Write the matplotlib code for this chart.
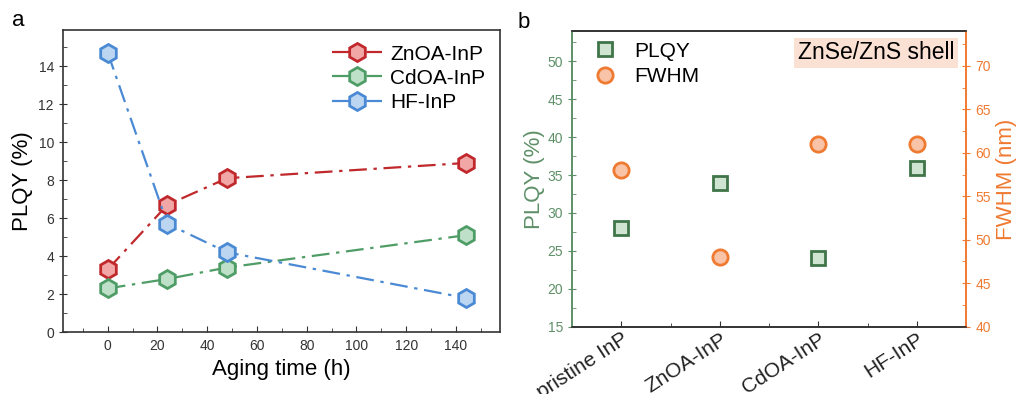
import matplotlib
matplotlib.use("Agg")
import matplotlib.pyplot as plt
import matplotlib.transforms as mtransforms
from matplotlib.ticker import MultipleLocator

plt.rcParams['font.family'] = ['Liberation Sans', 'DejaVu Sans']

# panel a: PLQY vs aging time
aging_h = [0, 24, 48, 144]
plqy_znoa = [3.3, 6.7, 8.1, 8.9]
plqy_cdoa = [2.3, 2.8, 3.4, 5.1]
plqy_hf = [14.7, 5.7, 4.2, 1.8]
series_a = ["ZnOA-InP", "CdOA-InP", "HF-InP"]

# panel b: shelled samples
samples = ["pristine InP", "ZnOA-InP", "CdOA-InP", "HF-InP"]
plqy_shell = [28, 34, 24, 36]
fwhm_shell = [58, 48, 61, 61]

RED_E, RED_F = "#c0282c", "#f2a7a7"
GRN_E, GRN_F = "#4f9d66", "#bfe0c8"
BLU_E, BLU_F = "#4a8ad4", "#bcd6f2"
DGRN_E, DGRN_F = "#3f7548", "#cfe5d2"
ORG_E, ORG_F = "#ef7a32", "#f8c3a6"
LGRN = "#5e9068"
DARK = "#333333"


def style_y(a, color):
    a.tick_params(axis="y", which="major", direction="inout", length=6,
                  colors=color, labelsize=10)
    a.tick_params(axis="y", which="minor", direction="in", length=3,
                  colors=color)


fig = plt.figure(figsize=(10.16, 3.94), dpi=100)

# ---------------- panel a ----------------
ax = fig.add_axes([0.062, 0.157, 0.430, 0.767])
for y, lab, ec, fc in zip([plqy_znoa, plqy_cdoa, plqy_hf], series_a,
                          [RED_E, GRN_E, BLU_E], [RED_F, GRN_F, BLU_F]):
    ax.plot(aging_h, y, linestyle=(0, (8, 3, 1.5, 3)), color=ec, lw=1.6,
            marker="h", ms=13, mfc=fc, mec=ec, mew=2, label=lab)
ax.set_xlim(-18, 157.7)
ax.set_ylim(0, 15.9)
ax.xaxis.set_major_locator(MultipleLocator(20))
ax.xaxis.set_minor_locator(MultipleLocator(10))
ax.yaxis.set_major_locator(MultipleLocator(2))
ax.yaxis.set_minor_locator(MultipleLocator(1))
style_y(ax, DARK)
ax.tick_params(axis="x", which="major", direction="in", length=4,
               colors=DARK, labelsize=10, pad=5)
ax.tick_params(axis="x", which="minor", direction="in", length=3, colors=DARK)
for s in ax.spines.values():
    s.set_color(DARK)
    s.set_linewidth(1.2)
ax.set_xlabel("Aging time (h)", fontsize=16)
ax.set_ylabel("PLQY (%)", fontsize=16)
ax.legend(loc="upper right", frameon=False, fontsize=15, handlelength=2.4,
          handletextpad=0.4, labelspacing=0.25, borderaxespad=0.3)
fig.text(0.012, 0.935, "a", fontsize=16)

# ---------------- panel b ----------------
bx = fig.add_axes([0.563, 0.171, 0.388, 0.750])
xs = list(range(len(samples)))
bx.plot(xs, plqy_shell, linestyle="none", marker="s", ms=10, mfc=DGRN_F,
        mec=DGRN_E, mew=2, label="PLQY")
bx.set_xlim(-0.5, 3.5)
bx.set_ylim(15, 54)
bx.set_xticks(xs)
bx.set_xticklabels(samples, rotation=33, ha="right", va="top",
                   rotation_mode="anchor", fontsize=15)
shift = mtransforms.ScaledTranslation(0.31, -0.01, fig.dpi_scale_trans)
for lbl in bx.get_xticklabels():
    lbl.set_transform(lbl.get_transform() + shift)
bx.set_xticks([0.5, 1.5, 2.5], minor=True)
bx.yaxis.set_major_locator(MultipleLocator(5))
bx.yaxis.set_minor_locator(MultipleLocator(2.5))
style_y(bx, LGRN)
bx.tick_params(axis="x", which="major", direction="in", length=4,
               color=DARK, labelcolor="#222222", pad=2)
bx.tick_params(axis="x", which="minor", direction="in", length=3, color=DARK)
bx.set_ylabel("PLQY (%)", fontsize=16, color=LGRN, labelpad=2)

cx = bx.twinx()
cx.plot(xs, fwhm_shell, linestyle="none", marker="o", ms=11, mfc=ORG_F,
        mec=ORG_E, mew=2, label="FWHM")
cx.set_ylim(40, 74)
cx.yaxis.set_major_locator(MultipleLocator(5))
cx.yaxis.set_minor_locator(MultipleLocator(2.5))
style_y(cx, ORG_E)
cx.set_ylabel("FWHM (nm)", fontsize=16, color=ORG_E)

for a_ in (bx, cx):
    for s in a_.spines.values():
        s.set_linewidth(1.2)
    a_.spines["top"].set_color(DARK)
    a_.spines["bottom"].set_color(DARK)
    a_.spines["left"].set_color(LGRN)
    a_.spines["right"].set_color(ORG_E)

h1, l1 = bx.get_legend_handles_labels()
h2, l2 = cx.get_legend_handles_labels()
bx.legend(h1 + h2, l1 + l2, loc="upper left", bbox_to_anchor=(0.03, 1.0),
          frameon=False, fontsize=15, handlelength=1.0, handletextpad=0.9,
          labelspacing=0.3, borderaxespad=0.2, borderpad=0.3)
cx.text(0.97, 0.965, "ZnSe/ZnS shell", transform=cx.transAxes, fontsize=16.5,
        ha="right", va="top",
        bbox=dict(boxstyle="square,pad=0.15", fc="#fbe1d4", ec="none"))
fig.text(0.509, 0.93, "b", fontsize=16)

fig.savefig("out.png", dpi=100)
